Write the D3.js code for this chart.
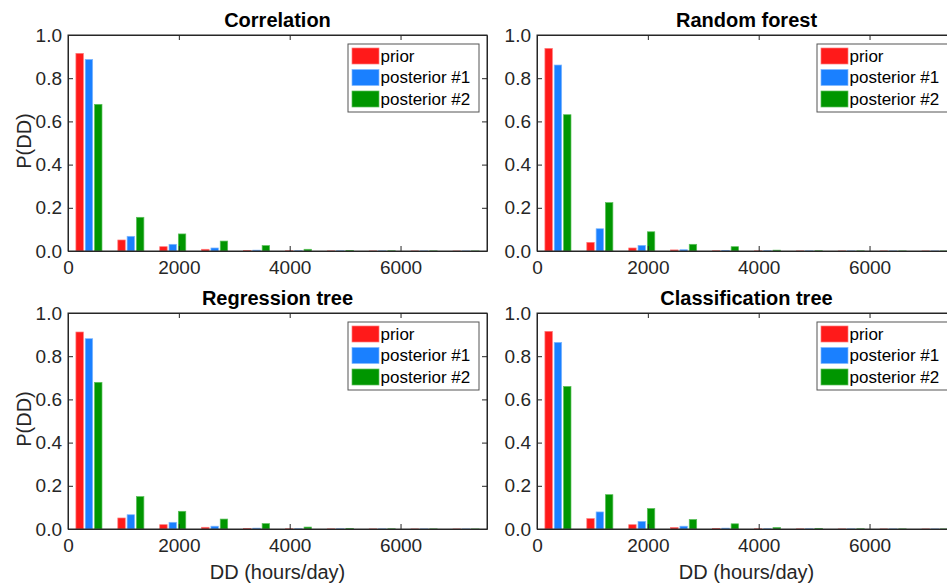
<!DOCTYPE html>
<html>
<head>
<meta charset="utf-8">
<script src="https://cdn.jsdelivr.net/npm/d3@7"></script>
<style>
  body { margin: 0; background: #fff; }
  svg { display: block; font-family: "Liberation Sans", Arial, sans-serif; }
  .ax path, .ax line { stroke: #262626; }
  .ax text { fill: #262626; }
</style>
</head>
<body>
<div id="grafico"></div>
<script>
// panels and series
var titles = ["Correlation", "Random forest", "Regression tree", "Classification tree"];
var seriesNames = ["prior", "posterior #1", "posterior #2"];
var colors = ["#ff1a1a", "#1a80ff", "#009600"];
var edges = ["#ff7a7a", "#80b8ff", "#5cc05c"];

// bin centres (hours/day)
var binCenters = [378, 1134, 1890, 2646, 3402, 4158, 4914, 5670, 6426, 7182];
var xTicks = [0, 2000, 4000, 6000];
var yTicks = [0, 0.2, 0.4, 0.6, 0.8, 1.0];

// P(DD) per panel, one array per series
var corrPrior = [0.915, 0.051, 0.020, 0.008, 0.003, 0.001, 0.0006, 0.0004, 0.0003, 0.0002];
var corrPost1 = [0.887, 0.068, 0.031, 0.014, 0.004, 0.001, 0.0008, 0.0005, 0.0003, 0.0002];
var corrPost2 = [0.679, 0.156, 0.079, 0.046, 0.025, 0.008, 0.003, 0.001, 0.0005, 0.0003];

var rfPrior = [0.938, 0.040, 0.014, 0.005, 0.001, 0.0005, 0.0004, 0.0003, 0.0003, 0.0002];
var rfPost1 = [0.861, 0.103, 0.026, 0.006, 0.003, 0.001, 0.0005, 0.0003, 0.0003, 0.0002];
var rfPost2 = [0.631, 0.224, 0.089, 0.031, 0.020, 0.004, 0.001, 0.0005, 0.0003, 0.0002];

var regPrior = [0.912, 0.051, 0.020, 0.008, 0.002, 0.001, 0.0006, 0.0004, 0.0003, 0.0002];
var regPost1 = [0.881, 0.066, 0.031, 0.013, 0.004, 0.001, 0.0008, 0.0005, 0.0003, 0.0002];
var regPost2 = [0.679, 0.150, 0.082, 0.046, 0.025, 0.009, 0.003, 0.001, 0.0005, 0.0003];

var clsPrior = [0.915, 0.048, 0.020, 0.007, 0.003, 0.001, 0.0006, 0.0004, 0.0003, 0.0002];
var clsPost1 = [0.864, 0.079, 0.035, 0.013, 0.004, 0.001, 0.0008, 0.0005, 0.0003, 0.0002];
var clsPost2 = [0.660, 0.159, 0.095, 0.044, 0.024, 0.007, 0.003, 0.001, 0.0005, 0.0003];

var panelData = [
  [corrPrior, corrPost1, corrPost2],
  [rfPrior, rfPost1, rfPost2],
  [regPrior, regPost1, regPost2],
  [clsPrior, clsPost1, clsPost2]
];

// layout
var W = 947, H = 585;
var pw = 419, ph = 216;
var origins = [[68, 35], [537, 35], [68, 313], [537, 313]];

var svg = d3.select("#grafico")
  .append("svg")
  .attr("width", W)
  .attr("height", H);

var x = d3.scaleLinear().domain([0, 7560]).range([0, pw]);
var y = d3.scaleLinear().domain([0, 1]).range([ph, 0]);

// grouped bars like matlab: group = 2/3 of bin, each bar 0.8 of its slot
var binW = x(756) - x(0);
var groupW = binW * 2 / 3;
var inner = d3.scaleBand().domain([0, 1, 2]).range([-groupW / 2, groupW / 2]).paddingInner(0.2).paddingOuter(0.1);

panelData.forEach(function(series, p) {
  var g = svg.append("g")
    .attr("transform", "translate(" + origins[p][0] + "," + origins[p][1] + ")");

  // bars
  series.forEach(function(vals, s) {
    g.append("g")
      .selectAll("rect")
      .data(vals)
      .enter()
      .append("rect")
        .attr("x", function(d, i) { return x(binCenters[i]) + inner(s); })
        .attr("width", inner.bandwidth())
        .attr("y", function(d) { return y(d); })
        .attr("height", function(d) { return ph - y(d); })
        .attr("fill", colors[s])
        .attr("stroke", edges[s])
        .attr("stroke-width", 0.7);
  });

  // axes, ticks pointing inward
  g.append("g").attr("class", "ax")
    .attr("transform", "translate(0," + ph + ")")
    .call(d3.axisBottom(x).tickValues(xTicks).tickSize(-5).tickSizeOuter(0).tickPadding(10).tickFormat(d3.format("d")))
    .selectAll("text").attr("font-size", 19).attr("font-family", "Liberation Sans, Arial, sans-serif");

  g.append("g").attr("class", "ax")
    .call(d3.axisTop(x).tickValues(xTicks).tickSize(-5).tickSizeOuter(0).tickFormat(""));

  g.append("g").attr("class", "ax")
    .call(d3.axisLeft(y).tickValues(yTicks).tickSize(-5).tickSizeOuter(0).tickPadding(6).tickFormat(d3.format(".1f")))
    .selectAll("text").attr("font-size", 19).attr("font-family", "Liberation Sans, Arial, sans-serif");

  g.append("g").attr("class", "ax")
    .attr("transform", "translate(" + pw + ",0)")
    .call(d3.axisRight(y).tickValues(yTicks).tickSize(-5).tickSizeOuter(0).tickFormat(""));

  // box
  g.append("rect")
    .attr("width", pw).attr("height", ph)
    .attr("fill", "none").attr("stroke", "#262626").attr("stroke-width", 1);

  // title
  g.append("text")
    .attr("x", pw / 2)
    .attr("y", -8)
    .style("text-anchor", "middle")
    .attr("font-weight", "bold")
    .attr("font-size", 20)
    .style("fill", "#000")
    .text(titles[p]);

  // legend
  var lg = g.append("g").attr("transform", "translate(280,9)");
  lg.append("rect")
    .attr("width", 131).attr("height", 68)
    .attr("fill", "#fff").attr("stroke", "#555").attr("stroke-width", 1);
  seriesNames.forEach(function(name, s) {
    lg.append("rect")
      .attr("x", 4).attr("y", 4 + s * 21.5)
      .attr("width", 27).attr("height", 16)
      .attr("fill", colors[s]).attr("stroke", edges[s]).attr("stroke-width", 0.7);
    lg.append("text")
      .attr("x", 32.5).attr("y", 12 + s * 21.5)
      .attr("dy", "0.35em")
      .attr("font-size", 17)
      .style("fill", "#000")
      .text(name);
  });

  // y label on left column
  if (p % 2 === 0) {
    svg.append("text")
      .attr("transform", "translate(" + 31 + "," + (origins[p][1] + ph / 2 - 2) + ") rotate(-90)")
      .style("text-anchor", "middle")
      .attr("font-size", 20)
      .style("fill", "#262626")
      .text("P(DD)");
  }
  // x label on bottom row
  if (p >= 2) {
    svg.append("text")
      .attr("x", origins[p][0] + pw / 2)
      .attr("y", 579)
      .style("text-anchor", "middle")
      .attr("font-size", 20)
      .style("fill", "#262626")
      .text("DD (hours/day)");
  }
});
</script>
</body>
</html>
